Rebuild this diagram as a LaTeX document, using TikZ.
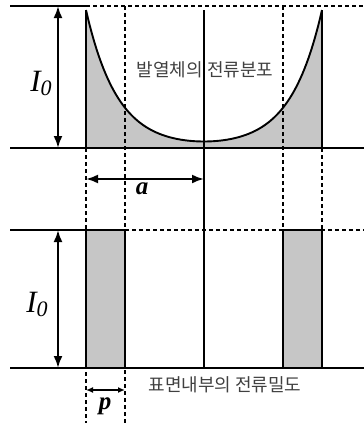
\documentclass[tikz,border=0pt]{standalone}
\usepackage{fontspec}
\setmainfont{Liberation Serif}
\newfontfamily\krfont{Noto Sans CJK KR}
\usetikzlibrary{arrows.meta}
\newcommand{\Izero}{I{\fontsize{22}{22}\selectfont\raisebox{-4pt}{0}}}
\begin{document}
\begin{tikzpicture}[x=1pt,y=-1pt,
  solidline/.style={line width=2.3pt},
  dline/.style={line width=2pt, dash pattern=on 4pt off 3pt},
  bigdim/.style={line width=2.2pt, {Latex[length=12pt,width=9pt]}-{Latex[length=12pt,width=9pt]}},
  smalldim/.style={line width=1.4pt, {Latex[length=7pt,width=6pt]}-{Latex[length=7pt,width=6pt]}},
  shadefill/.style={fill=gray!45},
  krlabel/.style={font=\krfont\fontsize{18}{18}\selectfont, text=black!75, inner sep=0pt},
  mathlabel/.style={font=\fontsize{31}{31}\selectfont\itshape, inner sep=0pt},
  letter/.style={font=\fontsize{25}{25}\selectfont\bfseries\itshape, inner sep=0pt}
]
\useasboundingbox (0,0) rectangle (364,423);

% ---------- top panel ----------
\fill[shadefill] (86,148) -- plot[domain=86:322, samples=120] (\x, {148-138*cosh((\x-204)/31.5)/cosh(118/31.5)}) -- (322,148) -- cycle;
\draw[line width=1.9pt] plot[domain=86:322, samples=120] (\x, {148-138*cosh((\x-204)/31.5)/cosh(118/31.5)});

\coordinate (t0) at (10,6);
\coordinate (t1) at (86,6);
\coordinate (t2) at (364,6);
\coordinate (b0) at (10,148);
\coordinate (b1) at (364,148);
\draw[solidline] (t0) -- (t1);
\draw[dline] (t1) -- (t2);
\draw[solidline] (b0) -- (b1);

% plate edges
\coordinate (e1t) at (86,10);
\coordinate (e1b) at (86,148);
\coordinate (e4t) at (322,10);
\coordinate (e4b) at (322,148);
\draw[solidline] (e1t) -- (e1b);
\draw[solidline] (e4t) -- (e4b);

% dashed verticals
\coordinate (d1b) at (86,423);
\coordinate (d2t) at (125,6);
\coordinate (d2b) at (125,423);
\coordinate (d3t) at (283,6);
\coordinate (d3b) at (283,230);
\coordinate (d4b) at (322,230);
\draw[dline] (e1b) -- (d1b);
\draw[dline] (d2t) -- (d2b);
\draw[dline] (d3t) -- (d3b);
\draw[dline] (e4b) -- (d4b);

% center line
\coordinate (ct) at (204,10);
\coordinate (cb) at (204,368);
\draw[line width=1.9pt] (ct) -- (cb);

% I0 arrow top
\coordinate (i1t) at (58,6);
\coordinate (i1b) at (58,148);
\draw[bigdim] (i1t) -- (i1b);
\node[mathlabel] (I0top) at (41,83) {\Izero};

% a arrow
\coordinate (a1) at (86,179);
\coordinate (a2) at (204,179);
\draw[bigdim] (a1) -- (a2);
\node[letter] (alabel) at (142,189) {a};

\node[krlabel] (topcap) at (205,70) {발열체의 전류분포};

% ---------- bottom panel ----------
\node[draw, solidline, shadefill, minimum width=39pt, minimum height=138pt, inner sep=0pt] (r1) at (105.5,299) {};
\node[draw, solidline, shadefill, minimum width=39pt, minimum height=138pt, inner sep=0pt] (r2) at (302.5,299) {};

\coordinate (u0) at (10,230);
\coordinate (u1) at (125,230);
\coordinate (u2) at (364,230);
\draw[solidline] (u0) -- (u1);
\draw[dline] (u1) -- (u2);
\coordinate (v0) at (10,368);
\coordinate (v1) at (364,368);
\draw[solidline] (v0) -- (v1);

\coordinate (i2t) at (58,230);
\coordinate (i2b) at (58,368);
\draw[bigdim] (i2t) -- (i2b);
\node[mathlabel] (I0bot) at (37,304) {\Izero};

\coordinate (p1) at (86,390);
\coordinate (p2) at (125,390);
\draw[smalldim] (p1) -- (p2);
\node[letter] (plabel) at (105,406) {p};

\node[krlabel] (botcap) at (225,385) {표면내부의 전류밀도};
\end{tikzpicture}
\end{document}
